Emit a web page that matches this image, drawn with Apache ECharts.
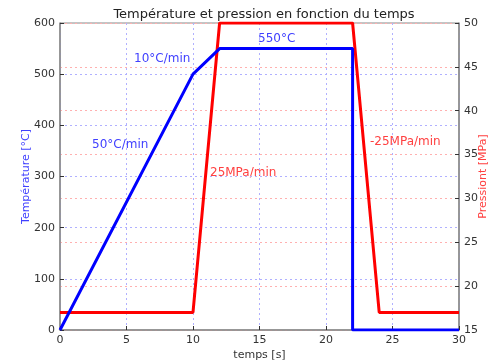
<!DOCTYPE html>
<html><head><meta charset="utf-8">
<script src="https://cdn.jsdelivr.net/npm/echarts@6/dist/echarts.min.js"></script>
<style>html,body{margin:0;padding:0;background:#fff}#c{width:488px;height:363px}</style>
</head><body><div id="c"></div>
<script>
const timeTemp = [0, 10, 12, 22, 22, 30];
const tempValues = [0, 500, 550, 550, 0, 0];
const timePress = [0, 10, 12, 22, 24, 30];
const pressValues = [17, 17, 50, 50, 17, 17];
const annotations = ['10°C/min', '550°C', '50°C/min', '25MPa/min', '-25MPa/min'];
const chart = echarts.init(document.getElementById('c'));
const font = 'DejaVu Sans';
const blueTxt = '#4040ff', redTxt = '#ff4040';
const tickBase = {show: true, inside: true, length: 4, lineStyle: {color: '#333'}};
const txt = (s, x, y, c) => ({type: 'text', x: x, y: y,
  style: {text: s, fill: c, font: '12px DejaVu Sans', verticalAlign: 'middle', align: 'left'}});
chart.setOption({
  animation: false,
  textStyle: {fontFamily: font},
  title: {text: 'Température et pression en fonction du temps', left: 259, top: 3, textAlign: 'center',
    textStyle: {fontFamily: font, fontSize: 13, fontWeight: 'normal', color: '#222'}},
  grid: {left: 60, right: 29, top: 23, bottom: 33, show: true, borderColor: '#888', borderWidth: 1,
    containLabel: false, outerBoundsMode: 'none'},
  xAxis: [{type: 'value', min: 0, max: 30, interval: 5,
    name: 'temps [s]', nameLocation: 'middle', nameGap: 20, nameMoveOverlap: false,
    nameTextStyle: {fontSize: 11, color: '#333'},
    axisLine: {show: true, lineStyle: {color: '#888', width: 1.5}},
    axisTick: tickBase,
    axisLabel: {fontSize: 11, color: '#333', margin: 5},
    splitLine: {show: true, lineStyle: {color: '#b0b0ff', type: [2, 3], width: 1}}}],
  yAxis: [{type: 'value', min: 0, max: 600, interval: 100, position: 'left',
    name: 'Température [°C]', nameLocation: 'middle', nameGap: 28, nameMoveOverlap: false,
    nameTextStyle: {fontSize: 11, color: blueTxt},
    axisLine: {show: true, lineStyle: {color: '#888', width: 1.5}},
    axisTick: tickBase,
    axisLabel: {fontSize: 11, color: '#333', margin: 5},
    splitLine: {show: true, lineStyle: {color: '#b0b0ff', type: [2, 3], width: 1}}},
   {type: 'value', min: 15, max: 50, interval: 5, position: 'right',
    name: 'Pressiont [MPa]', nameLocation: 'middle', nameGap: 19, nameRotate: 90, nameMoveOverlap: false,
    nameTextStyle: {fontSize: 11, color: redTxt},
    axisLine: {show: true, lineStyle: {color: '#888', width: 1.5}},
    axisTick: tickBase,
    axisLabel: {fontSize: 11, color: '#333', margin: 5},
    splitLine: {show: true, lineStyle: {color: '#ffb0b0', type: [2, 3], width: 1}}}],
  series: [
    {type: 'line', yAxisIndex: 0, showSymbol: false, lineStyle: {color: '#0000ff', width: 3}, z: 3,
     data: timeTemp.map((t, i) => [t, tempValues[i]])},
    {type: 'line', yAxisIndex: 1, showSymbol: false, lineStyle: {color: '#ff0000', width: 3}, z: 2,
     data: timePress.map((t, i) => [t, pressValues[i]])}
  ],
  graphic: [
    txt(annotations[0], 134, 59, blueTxt),
    txt(annotations[1], 258, 39, blueTxt),
    txt(annotations[2], 92, 145, blueTxt),
    txt(annotations[3], 210, 173, redTxt),
    txt(annotations[4], 370, 142, redTxt)
  ]
});
</script></body></html>
